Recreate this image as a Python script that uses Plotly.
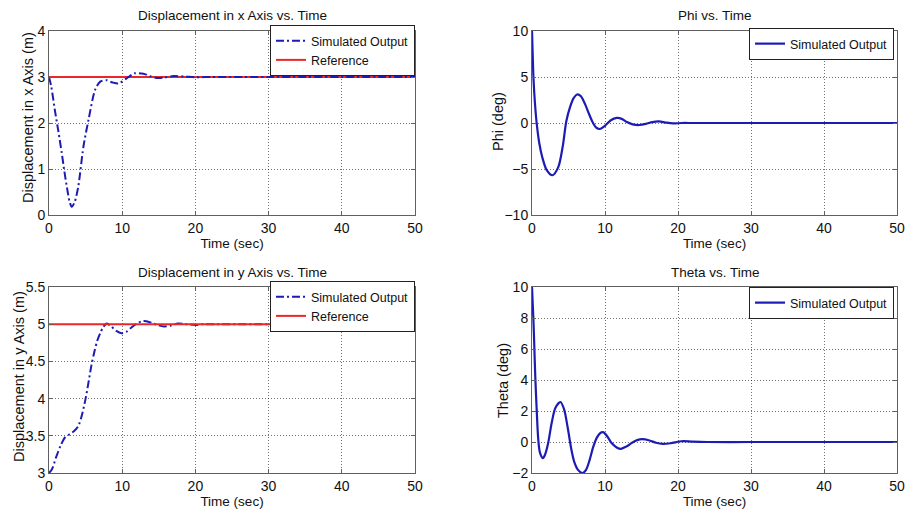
import plotly.graph_objects as go

# ---------------- data ----------------
# Displacement in x axis
tx = [0, 0.3, 0.8, 1.3, 1.75, 2.1, 2.45, 2.8, 3.1, 3.5, 4.0, 4.7, 5.4, 6.3, 7.0, 7.9, 8.7, 9.5,
      10.6, 11.7, 12.9, 13.8, 14.7, 15.8, 17.0, 18.5, 20, 22, 25, 30, 35, 40, 45, 50]
dx = [3.0, 2.8, 2.28, 1.8, 1.34, 0.95, 0.6, 0.3, 0.18, 0.28, 0.62, 1.48, 2.07, 2.72, 2.9, 2.93, 2.88, 2.86,
      2.97, 3.08, 3.07, 3.02, 2.98, 2.99, 3.02, 3.01, 2.995, 3.0, 3.0, 3.0, 3.0, 3.0, 3.0, 3.0]
ref_x = 3.0

# Phi
tp = [0, 0.1, 0.2, 0.4, 0.65, 1.0, 1.4, 2.0, 2.8, 3.6, 4.2, 4.7, 5.2, 5.7, 6.2, 6.7, 7.3, 7.8, 8.3,
      8.8, 9.3, 10.0, 10.8, 11.6, 12.3, 13.0, 13.8, 14.7, 15.6, 16.5, 17.4, 18.3, 19.3, 20.5, 22,
      25, 30, 35, 40, 45, 50]
phi = [10, 7.3, 4.9, 2.2, -0.1, -2.2, -3.7, -5.1, -5.68, -4.8, -2.6, 0.2, 1.7, 2.7, 3.1, 2.9, 2.0, 1.0, 0.1,
       -0.5, -0.65, -0.3, 0.3, 0.55, 0.45, 0.1, -0.15, -0.22, -0.1, 0.1, 0.17, 0.05, -0.05, 0.0, 0.0,
       0.0, 0.0, 0.0, 0.0, 0.0, 0.0]

# Displacement in y axis
ty = [0, 0.4, 1.0, 1.6, 2.2, 2.8, 3.4, 4.0, 4.5, 5.0, 5.4, 5.8, 6.2, 6.6, 7.0, 7.4, 7.9, 8.5, 9.2,
      9.9, 10.6, 11.3, 12.0, 12.7, 13.3, 14.0, 14.8, 15.7, 16.6, 17.6, 18.8, 20, 21, 22, 30, 40, 50]
dy = [3.0, 3.05, 3.22, 3.37, 3.48, 3.52, 3.56, 3.63, 3.78, 4.0, 4.22, 4.45, 4.63, 4.78, 4.88, 4.96, 5.01,
      4.97, 4.91, 4.88, 4.9, 4.96, 5.01, 5.04, 5.04, 5.02, 4.99, 4.97, 4.98, 5.01, 5.0, 4.99, 5.0, 5.0,
      5.0, 5.0, 5.0]
ref_y = 5.0

# Theta
tt = [0, 0.1, 0.2, 0.3, 0.45, 0.65, 0.86, 1.1, 1.5, 1.8, 2.2, 2.7, 3.2, 3.9, 4.4, 4.9, 5.4, 5.8, 6.3,
      6.9, 7.4, 7.9, 8.4, 8.9, 9.4, 9.8, 10.4, 10.9, 11.6, 12.2, 12.9, 13.7, 14.4, 15.1, 16.1, 17.0,
      17.9, 19.0, 20.5, 22, 24, 30, 35, 40, 45, 50]
theta = [10, 8.9, 7.8, 6.4, 4.2, 2.0, 0.15, -0.7, -1.04, -0.8, -0.1, 1.24, 2.2, 2.58, 2.1, 0.9, -0.5, -1.3,
         -1.8, -2.0, -1.8, -1.15, -0.3, 0.3, 0.6, 0.62, 0.3, -0.07, -0.35, -0.44, -0.3, -0.05, 0.12, 0.18,
         0.1, -0.05, -0.12, -0.08, 0.05, 0.02, 0.0, 0.0, 0.0, 0.0, 0.0, 0.0]

time_ticks = [0, 10, 20, 30, 40, 50]

# ---------------- styling ----------------
W, H = 905, 512
FONT = "Liberation Sans, Arial, sans-serif"
BLUE = "#1c1cb4"
RED = "#e8282a"
GRID = "rgba(0,0,0,0.55)"
AXLINE = "#606060"


def px(x):
    """window pixel x -> paper fraction"""
    return x / W


def py(y):
    """window pixel y -> paper fraction"""
    return 1 - y / H


fig = go.Figure()

# top-left
fig.add_trace(go.Scatter(x=[0, 50], y=[ref_x, ref_x], mode="lines", name="Reference",
                         line=dict(color=RED, width=2), xaxis="x", yaxis="y",
                         legend="legend", legendrank=2))
fig.add_trace(go.Scatter(x=tx, y=dx, mode="lines", name="Simulated Output",
                         line=dict(color=BLUE, width=2, dash="8px,3px,2px,3px", shape="spline", smoothing=0.8),
                         xaxis="x", yaxis="y", legend="legend", legendrank=1))
# top-right
fig.add_trace(go.Scatter(x=tp, y=phi, mode="lines", name="Simulated Output",
                         line=dict(color=BLUE, width=2.2, shape="spline", smoothing=0.8),
                         xaxis="x2", yaxis="y2", legend="legend2"))
# bottom-left
fig.add_trace(go.Scatter(x=ty, y=dy, mode="lines", name="Simulated Output",
                         line=dict(color=BLUE, width=2, dash="8px,3px,2px,3px", shape="spline", smoothing=0.8),
                         xaxis="x3", yaxis="y3", legend="legend3", legendrank=1))
fig.add_trace(go.Scatter(x=[0, 50], y=[ref_y, ref_y], mode="lines", name="Reference",
                         line=dict(color=RED, width=2), xaxis="x3", yaxis="y3",
                         legend="legend3", legendrank=2))
# bottom-right
fig.add_trace(go.Scatter(x=tt, y=theta, mode="lines", name="Simulated Output",
                         line=dict(color=BLUE, width=2.2, shape="spline", smoothing=0.8),
                         xaxis="x4", yaxis="y4", legend="legend4"))

xdom_l = [px(49), px(415)]
xdom_r = [px(532), px(897)]
ydom_t = [py(215), py(31)]
ydom_b = [py(473), py(287)]


def xax(domain, anchor):
    return dict(domain=domain, anchor=anchor, range=[0, 50], tickvals=time_ticks,
                showgrid=True, gridcolor=GRID, griddash="1px,2px", gridwidth=1,
                showline=True, linecolor=AXLINE, linewidth=1, mirror="ticks",
                ticks="inside", ticklen=4, tickcolor=AXLINE, zeroline=False,
                automargin=False, ticklabeloverflow="allow",
                tickfont=dict(family=FONT, size=14, color="#111"),
                title=dict(text="Time (sec)", font=dict(family=FONT, size=13.5, color="#111"), standoff=0))


def yax(domain, anchor, rng, dtick):
    return dict(domain=domain, anchor=anchor, range=rng, dtick=dtick,
                showgrid=True, gridcolor=GRID, griddash="1px,2px", gridwidth=1,
                showline=True, linecolor=AXLINE, linewidth=1, mirror="ticks",
                ticks="inside", ticklen=4, tickcolor=AXLINE, zeroline=False,
                automargin=False, ticklabeloverflow="allow",
                tickfont=dict(family=FONT, size=14, color="#111"))


def leg(xr, yt):
    return dict(x=px(xr), y=py(yt), xanchor="right", yanchor="top",
                bgcolor="white", bordercolor="#222", borderwidth=1,
                font=dict(family=FONT, size=12.5, color="#111"),
                itemwidth=30, tracegroupgap=0)


fig.update_layout(
    width=W, height=H,
    margin=dict(l=0, r=0, t=0, b=0, pad=0, autoexpand=False),
    paper_bgcolor="white", plot_bgcolor="white",
    font=dict(family=FONT, color="#111"),
    xaxis=xax(xdom_l, "y"),
    yaxis=yax(ydom_t, "x", [0, 4], 1),
    xaxis2=xax(xdom_r, "y2"),
    yaxis2=yax(ydom_t, "x2", [-10, 10], 5),
    xaxis3=xax(xdom_l, "y3"),
    yaxis3=yax(ydom_b, "x3", [3, 5.5], 0.5),
    xaxis4=xax(xdom_r, "y4"),
    yaxis4=yax(ydom_b, "x4", [-2, 10], 2),
    legend=leg(415, 25),
    legend2=leg(894, 28),
    legend3=leg(415, 281),
    legend4=leg(894, 287),
    showlegend=True,
)

titles = [("Displacement in x Axis vs. Time", 232, 15),
          ("Phi vs. Time", 715, 15),
          ("Displacement in y Axis vs. Time", 232, 272),
          ("Theta vs. Time", 715, 272)]
for text, cx, cy in titles:
    fig.add_annotation(text=text, x=px(cx), y=py(cy), xref="paper", yref="paper",
                       xanchor="center", yanchor="middle", showarrow=False,
                       font=dict(family=FONT, size=13.5, color="#111"))

ytitles = [("Displacement in x Axis (m)", 28, 118),
           ("Phi (deg)", 498, 122),
           ("Displacement in y Axis (m)", 19, 377),
           ("Theta (deg)", 503, 381)]
for text, cx, cy in ytitles:
    fig.add_annotation(text=text, x=px(cx), y=py(cy), xref="paper", yref="paper",
                       xanchor="center", yanchor="middle", showarrow=False, textangle=-90,
                       font=dict(family=FONT, size=14.5, color="#111"))

# page without the default body margin so the 905x512 figure fills the window exactly
fig.write_html("out.html",
               config={"displayModeBar": False},
               post_script="document.body.style.margin='0';document.body.style.overflow='hidden';")
